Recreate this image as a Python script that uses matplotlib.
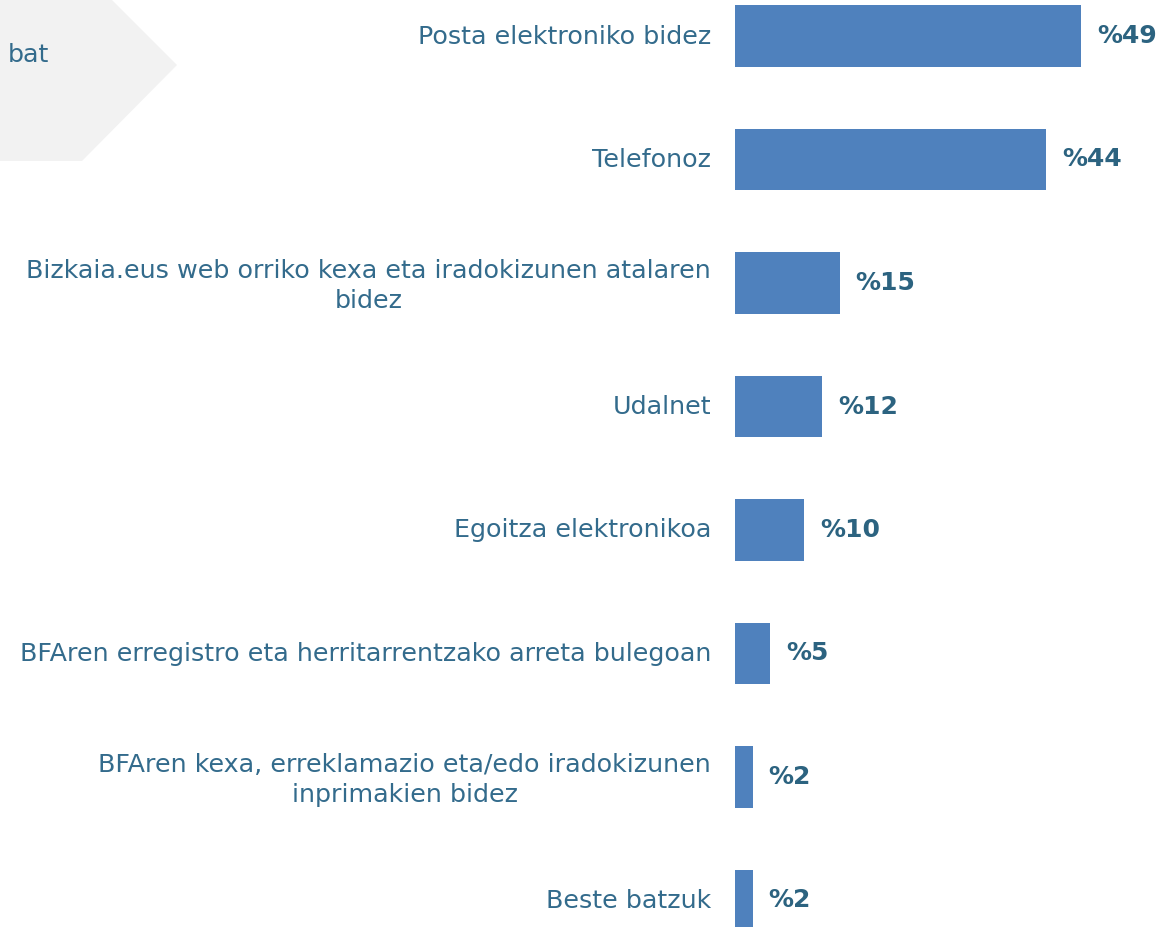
import matplotlib
matplotlib.use("Agg")
import matplotlib.pyplot as plt
from matplotlib.patches import Polygon
from matplotlib.transforms import ScaledTranslation

categories = [
    "Posta elektroniko bidez",
    "Telefonoz",
    "Bizkaia.eus web orriko kexa eta iradokizunen atalaren\nbidez",
    "Udalnet",
    "Egoitza elektronikoa",
    "BFAren erregistro eta herritarrentzako arreta bulegoan",
    "BFAren kexa, erreklamazio eta/edo iradokizunen\ninprimakien bidez",
    "Beste batzuk",
]
values = [49, 44, 14.8, 12.3, 9.8, 5, 2.5, 2.5]
value_labels = ["%49", "%44", "%15", "%12", "%10", "%5", "%2", "%2"]

W, H = 1159, 927
fig = plt.figure(figsize=(W / 100, H / 100), dpi=100)
fig.patch.set_facecolor("white")

text_color = "#336B8C"
value_color = "#2C6380"
bar_color = "#4F81BD"
font = ["DejaVu Sans"]

# decorative grey arrow shape in the top-left corner
pts = [(0, 0), (112, 0), (177, 65), (82, 161), (0, 161)]
poly = Polygon([(x / W, 1 - y / H) for x, y in pts], closed=True,
               transform=fig.transFigure, facecolor="#F2F2F2",
               edgecolor="none", zorder=0)
fig.patches.append(poly)
fig.text(8 / W, 1 - 53 / H, "bat", color=text_color, fontsize=18.3,
         family=font, va="center_baseline", ha="left")

left = 735 / W
ax = fig.add_axes([left, 0, 1 - left, 1])
ax.set_facecolor("none")
y = list(range(len(categories)))
ax.barh(y, values, height=0.5, color=bar_color)
ax.set_xlim(0, 60)
top_off = 36 / 123.5
ax.set_ylim((H - 36) / 123.5, -top_off)
for s in ax.spines.values():
    s.set_visible(False)
ax.set_xticks([])
ax.set_yticks(y)
ax.set_yticklabels(categories, family=font, fontsize=18.3, color=text_color,
                   multialignment="center", linespacing=1.3)
ax.tick_params(axis="y", length=0, pad=17.3)
shift = ScaledTranslation(0, 2 / 100, fig.dpi_scale_trans)
for lbl in ax.get_yticklabels():
    lbl.set_transform(lbl.get_transform() + shift)

for yi, v, lab in zip(y, values, value_labels):
    ax.annotate(lab, (v, yi), xytext=(11.5, 0), textcoords="offset points",
                va="center", ha="left", fontsize=18, fontweight="bold",
                color=value_color, family=font, annotation_clip=False)

fig.savefig("out.png", dpi=100)
